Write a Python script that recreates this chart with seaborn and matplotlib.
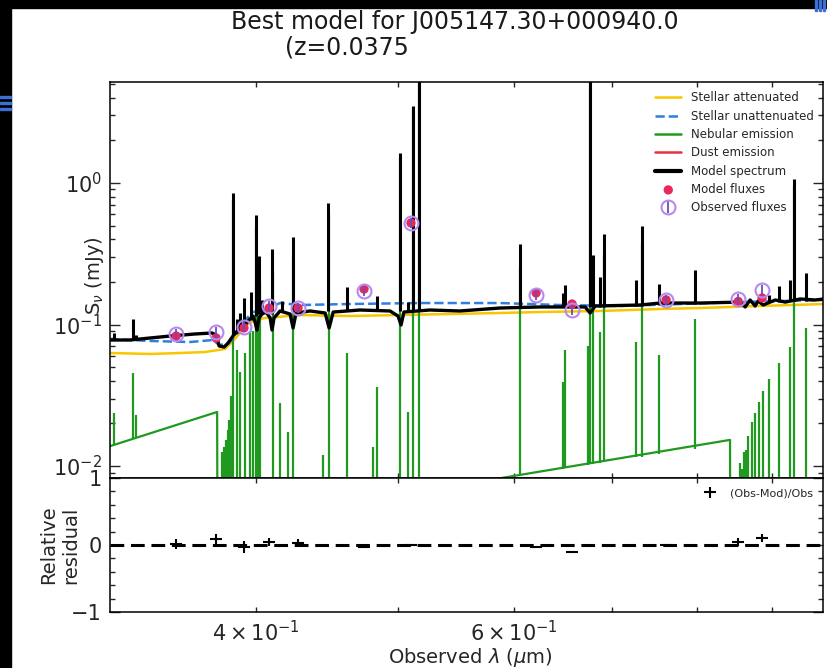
import numpy as np
import matplotlib
matplotlib.use('Agg')
import matplotlib.pyplot as plt
import seaborn as sns
from matplotlib.lines import Line2D
from matplotlib.patches import Rectangle
from matplotlib.ticker import AutoMinorLocator

# stellar attenuated (um, mJy)
att_wl = [0.3179, 0.3387, 0.3550, 0.3692, 0.3769, 0.3810, 0.3852, 0.3901, 0.3950, 0.3994, 0.4057,
          0.4286, 0.4637, 0.5016, 0.5426, 0.5870, 0.6252, 0.6869, 0.7548, 0.8039, 0.8806, 0.976]
att_flux = [0.0629, 0.0619, 0.0629, 0.0639, 0.0660, 0.0671, 0.0752, 0.0871, 0.1008, 0.1076, 0.1111,
            0.1167, 0.1148, 0.1167, 0.1186, 0.1206, 0.1225, 0.1246, 0.1287, 0.1308, 0.1351, 0.1395]

# stellar unattenuated
unatt_wl = [0.3179, 0.3387, 0.3606, 0.3739, 0.3775, 0.3828, 0.3876, 0.3925, 0.3975, 0.4038,
            0.4154, 0.4286, 0.4637, 0.5176, 0.5870, 0.6450, 0.7088, 0.7788, 0.8560, 0.976]
unatt_flux = [0.0790, 0.0765, 0.0752, 0.0777, 0.0716, 0.0728, 0.0843, 0.1041, 0.1225, 0.1246,
              0.1418, 0.1373, 0.1396, 0.1418, 0.1418, 0.1373, 0.1351, 0.1396, 0.1440, 0.1490]

# nebular continuum
neb_wl = [0.3179, 0.3763, 0.3765, 0.5870, 0.8425, 0.8427]
neb_flux = [0.0138, 0.0241, 0.0030, 0.0082, 0.0153, 0.0030]

# nebular lines
neb_line_wl = [0.3200, 0.3297, 0.3313, 0.3793, 0.3805, 0.3817, 0.3828, 0.3835, 0.3846, 0.3858,
               0.3883, 0.3901, 0.3932, 0.3963, 0.3982, 0.4000, 0.4013, 0.4025, 0.4109, 0.4154,
               0.4206, 0.4240, 0.4445, 0.4487, 0.4615, 0.4808, 0.4838, 0.5016, 0.5079, 0.5119,
               0.5167, 0.6058, 0.6481, 0.6501, 0.6741, 0.6762, 0.6794, 0.6869, 0.6913, 0.7270,
               0.7338, 0.7536, 0.7976, 0.8560, 0.8574, 0.8587, 0.8614, 0.8628, 0.8641, 0.8668,
               0.8723, 0.8764, 0.8819, 0.8875, 0.8960, 0.9101, 0.9260, 0.9318, 0.9495]
neb_line_base = [0.0141, 0.0156, 0.0159, 0.001, 0.001, 0.001, 0.001, 0.001, 0.001, 0.001,
                 0.001, 0.001, 0.001, 0.001, 0.001, 0.001, 0.001, 0.001, 0.001, 0.001,
                 0.001, 0.001, 0.001, 0.001, 0.001, 0.001, 0.001, 0.001, 0.001, 0.001,
                 0.001, 0.0087, 0.0096, 0.0097, 0.0102, 0.0103, 0.0103, 0.0105, 0.0106, 0.0115,
                 0.0116, 0.0121, 0.0132, 0.001, 0.001, 0.001, 0.001, 0.001, 0.001, 0.001,
                 0.001, 0.001, 0.001, 0.001, 0.001, 0.001, 0.001, 0.001, 0.001]
neb_line_peak = [0.0237, 0.0454, 0.0230, 0.0126, 0.0137, 0.0153, 0.0180, 0.0210, 0.0310, 0.760,
                 0.0660, 0.0463, 0.0630, 0.090, 0.090, 0.480, 0.200, 0.200, 0.230, 0.0280,
                 0.0175, 0.300, 0.0120, 0.600, 0.0630, 0.0137, 0.0360, 1.50, 0.0240, 3.40,
                 8.0, 0.250, 0.0390, 0.0660, 0.0700, 8.0, 0.180, 0.0885, 0.310, 0.0750,
                 0.370, 0.0610, 0.109, 0.0105, 0.0090, 0.0095, 0.0125, 0.0115, 0.0130, 0.0163,
                 0.0204, 0.0237, 0.0283, 0.0338, 0.0413, 0.0535, 0.0690, 0.950, 0.0940]

# model spectrum continuum
mod_wl = [0.3179, 0.3282, 0.3387, 0.3495, 0.3635, 0.3733, 0.3757, 0.3775, 0.3805, 0.3828,
          0.3858, 0.3889, 0.3914, 0.3932, 0.3956, 0.3982, 0.3994, 0.4006, 0.4019, 0.4038,
          0.4064, 0.4090, 0.4102, 0.4115, 0.4154, 0.4220, 0.4240, 0.4260, 0.4355, 0.4459,
          0.4487, 0.4516, 0.4710, 0.4938, 0.5000, 0.5024, 0.5047, 0.5257, 0.5511, 0.5870,
          0.6252, 0.6709, 0.6762, 0.6816, 0.7315, 0.7548, 0.8039, 0.8560, 0.8628, 0.8695,
          0.8764, 0.8806, 0.8875, 0.9045, 0.9188, 0.9406, 0.9631, 0.976]
mod_flux = [0.0777, 0.0777, 0.0803, 0.0829, 0.0857, 0.0871, 0.0843, 0.0705, 0.0693, 0.0740,
            0.0829, 0.0914, 0.0945, 0.0992, 0.1076, 0.1148, 0.1041, 0.0914, 0.1111, 0.1186,
            0.1225, 0.1111, 0.0914, 0.1111, 0.1246, 0.1186, 0.0945, 0.1206, 0.1246, 0.1206,
            0.0945, 0.1225, 0.1266, 0.1246, 0.1148, 0.0992, 0.1225, 0.1266, 0.1246, 0.1308,
            0.1330, 0.1330, 0.1206, 0.1351, 0.1373, 0.1418, 0.1418, 0.1440, 0.1330, 0.1490,
            0.1351, 0.1467, 0.1373, 0.1490, 0.1440, 0.1515, 0.1490, 0.1515]

# model spectrum lines
mod_line_wl = [0.3200, 0.3297, 0.3313, 0.3858, 0.3883, 0.3901, 0.3925, 0.3969, 0.4000, 0.4019,
               0.4038, 0.4102, 0.4167, 0.4240, 0.4480, 0.4615, 0.4838, 0.5016, 0.5079, 0.5119,
               0.5167, 0.6058, 0.6481, 0.6501, 0.6762, 0.6794, 0.6869, 0.6913, 0.7270, 0.7338,
               0.7536, 0.7976, 0.8960, 0.9101, 0.9260, 0.9318, 0.9495]
mod_line_base = [0.0777, 0.0790, 0.0790, 0.0840, 0.0871, 0.0910, 0.0950, 0.1080, 0.1148, 0.1180,
                 0.1200, 0.1180, 0.1240, 0.1220, 0.1240, 0.1266, 0.1266, 0.1250, 0.1266, 0.1266,
                 0.1266, 0.1310, 0.1320, 0.1320, 0.1320, 0.1330, 0.1330, 0.1330, 0.1360, 0.1360,
                 0.1380, 0.1400, 0.1440, 0.1450, 0.1460, 0.1460, 0.1470]
mod_line_peak = [0.087, 0.109, 0.084, 0.850, 0.109, 0.121, 0.154, 0.170, 0.594, 0.305,
                 0.149, 0.342, 0.147, 0.415, 0.722, 0.184, 0.159, 1.630, 0.144, 3.50,
                 8.0, 0.371, 0.167, 0.190, 8.0, 0.310, 0.217, 0.436, 0.206, 0.497,
                 0.193, 0.243, 0.162, 0.187, 0.206, 1.070, 0.231]

# photometry
filt_wl = [0.3528, 0.3757, 0.3925, 0.4083, 0.4273, 0.4740, 0.5103, 0.6212, 0.6573, 0.7620, 0.8534, 0.8860]
obs_flux = [0.0857, 0.0885, 0.0960, 0.1351, 0.1308, 0.1725, 0.522, 0.1616, 0.1266, 0.1492, 0.1515, 0.1754]
obs_err = [0.007, 0.008, 0.008, 0.011, 0.011, 0.014, 0.040, 0.013, 0.010, 0.012, 0.012, 0.014]
mod_fluxes = [0.0829, 0.0803, 0.0946, 0.1308, 0.1308, 0.1781, 0.522, 0.1670, 0.1396, 0.1492, 0.1455, 0.1539]
resid = [0.015, 0.09, -0.03, 0.045, 0.03, -0.03, 0.0, -0.03, -0.105, 0.0, 0.045, 0.105]
resid_err = [0.07, 0.07, 0.09, 0.06, 0.06, 0.02, 0.01, 0.02, 0.01, 0.01, 0.06, 0.06]

c_att = '#f7c600'
c_unatt = '#2f7fe0'
c_neb = '#1f9a1f'
c_dust = '#e8313c'
c_modf = '#e8285a'
c_obs = '#b48af0'
c_obs_bar = '#6a4cc0'

sns.set_theme(style='ticks')
plt.rcParams['font.family'] = ['DejaVu Sans']
plt.rcParams['mathtext.fontset'] = 'dejavusans'

fig = plt.figure(figsize=(8.27, 6.68), dpi=100)
fig.patch.set_facecolor('white')
W, H = 827, 668
ax1 = fig.add_axes([110 / W, 1 - 478 / H, 713 / W, 396 / H])
ax2 = fig.add_axes([110 / W, 1 - 612 / H, 713 / W, 134 / H], sharex=ax1)
ax1.set_xscale('log')
ax1.set_yscale('log')

sns.lineplot(x=att_wl, y=att_flux, ax=ax1, color=c_att, lw=1.8, sort=False, estimator=None, zorder=2)
sns.lineplot(x=unatt_wl, y=unatt_flux, ax=ax1, color=c_unatt, lw=1.8, ls='--', sort=False,
             estimator=None, zorder=2.5)
sns.lineplot(x=neb_wl, y=neb_flux, ax=ax1, color=c_neb, lw=1.6, sort=False, estimator=None, zorder=2.2)
ax1.vlines(neb_line_wl, neb_line_base, neb_line_peak, color=c_neb, lw=1.6, zorder=2.2)
sns.lineplot(x=mod_wl, y=mod_flux, ax=ax1, color='black', lw=2.4, sort=False, estimator=None, zorder=3)
ax1.vlines(mod_line_wl, mod_line_base, mod_line_peak, color='black', lw=2.2, zorder=3)

h_mf = ax1.scatter(filt_wl, mod_fluxes, s=45, color=c_modf, edgecolor='none', zorder=4)
h_obs = ax1.errorbar(filt_wl, obs_flux, yerr=obs_err, ls='', marker='o', mfc='none', mec=c_obs,
                     ms=10, mew=1.5, ecolor=c_obs_bar, elinewidth=1.3, capsize=0, zorder=5)

ax1.set_xlim(0.318, 0.975)
ax1.set_ylim(0.00823, 5.17)

handles = [Line2D([], [], color=c_att, lw=1.8), Line2D([], [], color=c_unatt, lw=1.8, ls='--'),
           Line2D([], [], color=c_neb, lw=1.8), Line2D([], [], color=c_dust, lw=1.8),
           Line2D([], [], color='black', lw=3), h_mf, h_obs]
labels = ['Stellar attenuated', 'Stellar unattenuated', 'Nebular emission', 'Dust emission',
          'Model spectrum', 'Model fluxes', 'Observed fluxes']
ax1.legend(handles, labels, loc='upper right', frameon=False, fontsize=8.5, handlelength=2.2,
           labelspacing=0.45, borderaxespad=0.4)

ax2.errorbar(filt_wl, resid, yerr=resid_err, ls='None', marker='_', ms=9, mew=1.5, color='black',
             elinewidth=1.5, capsize=0, label='(Obs-Mod)/Obs', zorder=3)
ax2.axhline(0, color='black', lw=2.2, ls=(0, (4.5, 2.2)), zorder=2)
ax2.set_ylim(-1, 1)
ax2.set_yticks([-1, 0, 1])
ax2.yaxis.set_minor_locator(AutoMinorLocator())
ax2.legend(loc='upper right', frameon=False, fontsize=8, handlelength=2.0, borderaxespad=0.5)

for ax in (ax1, ax2):
    ax.tick_params(which='both', direction='in', top=True, right=True, labelsize=15, pad=6, width=1)
    ax.tick_params(which='major', length=7)
    ax.tick_params(which='minor', length=3.5)
    for s in ax.spines.values():
        s.set_linewidth(1.1)
        s.set_color('black')
ax1.tick_params(labelbottom=False)

ax1.set_xlabel('')
ax1.set_ylabel('S$_\\nu$ (mJy)', fontsize=14)
ax1.yaxis.set_label_coords(-0.006, 0.51)
ax2.set_ylabel('Relative\nresidual', fontsize=14)
ax2.yaxis.set_label_coords(-0.042, 0.5)
ax2.set_xlabel('Observed $\\lambda$ ($\\mu$m)', fontsize=14)
ax2.xaxis.set_label_coords(0.505, -0.255)

fig.text(455 / W, 1 - 22 / H, 'Best model for J005147.30+000940.0', ha='center', va='center',
         fontsize=17, color='#1a1a1a')
fig.text(285 / W, 1 - 48 / H, '(z=0.0375', ha='left', va='center', fontsize=17, color='#1a1a1a')

# screenshot border
fig.patches.append(Rectangle((0, 0), 11 / W, 1, transform=fig.transFigure, color='black', zorder=10))
fig.patches.append(Rectangle((0, 1 - 8 / H), 1, 8 / H, transform=fig.transFigure, color='black', zorder=10))
for yy in (98, 104, 110):
    fig.patches.append(Rectangle((0, 1 - yy / H), 11 / W, 2 / H, transform=fig.transFigure,
                                 color='#3d6fd6', zorder=11))
for xx in (815, 819, 823):
    fig.patches.append(Rectangle((xx / W, 1 - 11 / H), 1.5 / W, 11 / H, transform=fig.transFigure,
                                 color='#3d6fd6', zorder=11))

fig.savefig('out.png', dpi=100, facecolor='white')
